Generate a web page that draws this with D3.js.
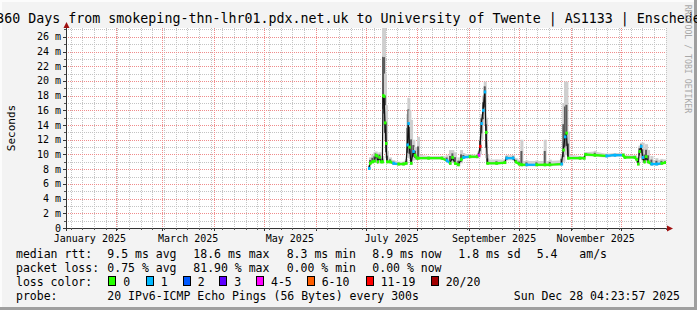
<!DOCTYPE html>
<html><head><meta charset="utf-8">
<script src="https://cdn.jsdelivr.net/npm/d3@7"></script>
<style>
html,body{margin:0;padding:0;background:#f3f3f3;overflow:hidden;}
svg{display:block;font-family:'DejaVu Sans Mono',monospace;}
</style>
</head><body><svg id="c" width="697" height="310"></svg>
<script>
// ---------- data ----------
const times = ["2025-07-03T00","2025-07-03T14","2025-07-05T00","2025-07-06T05","2025-07-07T00","2025-07-07T14","2025-07-08T05","2025-07-09T05","2025-07-10T05","2025-07-11T00",
"2025-07-11T10","2025-07-12T00","2025-07-12T14","2025-07-13T05","2025-07-13T19","2025-07-15T14","2025-07-17T14","2025-07-20T14","2025-07-23T14","2025-07-25T05",
"2025-07-26T00","2025-07-26T14","2025-07-27T05","2025-07-28T05","2025-07-29T14","2025-07-30T14","2025-07-31T14","2025-08-01T10","2025-08-07T14","2025-08-15T14",
"2025-08-18T14","2025-08-20T14","2025-08-22T00","2025-08-23T14","2025-08-25T14","2025-08-27T05","2025-08-28T14","2025-09-01T10","2025-09-05T19","2025-09-06T19",
"2025-09-07T14","2025-09-08T10","2025-09-09T10","2025-09-10T10","2025-09-11T05","2025-09-12T00","2025-09-17T10","2025-09-22T10","2025-09-23T10","2025-09-27T10",
"2025-09-29T00","2025-10-01T00","2025-10-02T10","2025-10-05T10","2025-10-11T10","2025-10-16T10","2025-10-19T10","2025-10-26T10","2025-10-27T14","2025-10-28T14",
"2025-10-29T10","2025-10-30T10","2025-11-06T10","2025-11-09T00","2025-11-09T19","2025-11-15T10","2025-11-22T10","2025-11-27T10","2025-12-02T10","2025-12-03T10",
"2025-12-09T10","2025-12-10T14","2025-12-11T10","2025-12-12T05","2025-12-13T05","2025-12-14T05","2025-12-15T05","2025-12-16T05","2025-12-17T10","2025-12-19T10",
"2025-12-22T10","2025-12-25T10","2025-12-27T19"];
const median = [8.1,8.8,9.0,9.1,9.9,9.8,9.0,9.6,9.0,9.0,
18.0,17.9,14.3,11.5,9.0,9.0,8.8,8.7,8.7,8.8,
11.3,14.2,11.0,8.8,10.4,9.9,9.5,9.5,9.5,9.5,
9.2,8.8,9.6,8.8,8.6,9.3,9.6,9.7,9.7,9.9,
11.1,14.2,16.0,18.5,13.0,8.8,8.8,8.9,9.5,9.5,
9.0,8.7,8.6,8.6,8.6,8.6,8.6,8.7,10.6,12.4,
12.9,9.5,9.5,9.5,10.0,9.9,9.8,9.9,9.9,9.6,
9.6,9.3,8.7,10.4,11.1,9.6,9.0,9.7,9.0,8.7,
8.7,8.8,8.9];
const loss = [1,0,0,0,0,0,0,0,0,0,
0,0,0,0,0,0,1,0,0,0,
1,1,0,0,1,0,0,0,0,0,
1,0,0,0,0,0,1,0,0,4,
12,1,1,1,0,0,0,0,1,1,
0,0,0,1,0,0,0,1,0,1,
0,0,0,0,0,0,1,1,0,0,
0,0,0,0,1,1,0,0,0,1,
1,0,0];
const smokeLo = [7.9,8.6,8.8,8.9,9.6,9.5,8.8,9.0,8.8,8.8,
15.0,14.0,12.0,9.5,8.8,8.8,8.6,8.5,8.5,8.6,
9.5,11.0,9.5,8.6,9.2,9.3,9.3,9.3,9.3,9.3,
9.0,8.6,8.9,8.6,8.4,8.8,9.4,9.5,9.5,9.6,
10.0,12.0,14.0,15.0,9.5,8.6,8.6,8.7,9.2,9.2,
8.8,8.5,8.4,8.4,8.4,8.4,8.4,8.5,9.0,10.0,
10.0,9.3,9.3,9.3,9.8,9.7,9.6,9.7,9.7,9.4,
9.4,9.1,8.5,9.5,9.6,9.0,8.8,8.9,8.8,8.5,
8.5,8.6,8.7];
const smokeHi = [8.6,9.6,10.0,10.3,10.4,10.2,9.8,10.3,9.5,9.8,
27.6,27.6,21.0,16.7,10.5,9.6,9.2,9.0,9.0,9.4,
15.5,17.7,16.0,14.7,12.0,11.0,10.0,12.4,9.8,9.8,
9.9,10.6,10.6,10.3,9.6,10.6,10.2,10.0,10.0,10.5,
12.5,15.5,18.0,19.9,15.0,10.0,9.3,9.3,9.9,9.9,
9.5,9.3,12.0,9.2,9.2,12.0,9.3,10.0,17.0,19.9,
19.9,13.1,9.8,9.8,10.3,10.5,10.1,10.2,10.2,9.9,
9.9,9.7,9.5,11.2,11.6,11.6,10.8,11.4,10.6,9.8,
9.5,9.4,9.3];

const yTicks = [0,2,4,6,8,10,12,14,16,18,20,22,24,26];
const monthLabels = ["2025-01","2025-03","2025-05","2025-07","2025-09","2025-11"];
const lossLabels = ["0","1","2","3","4-5","6-10","11-19","20/20"];
const lossMax = [0,1,2,3,5,10,19,20];
const lossColors = ["#26ff00","#00b8ff","#0059ff","#5e00ff","#ff00ff","#ff5e00","#ff0000","#a10000"];
const rttStats = ["9.5 ms avg","18.6 ms max","8.3 ms min","8.9 ms now","1.8 ms sd","5.4","am/s"];
const lossStats = ["0.75 % avg","81.90 % max","0.00 % min","0.00 % now"];
const title = "360 Days from smokeping-thn-lhr01.pdx.net.uk to University of Twente | AS1133 | Enschede";
const probeText = "20 IPv6-ICMP Echo Pings (56 Bytes) every 300s";
const stampText = "Sun Dec 28 04:23:57 2025";
const tStart = new Date(Date.UTC(2025,0,2,4,23,57));
const tEnd = new Date(Date.UTC(2025,11,28,4,23,57));

// ---------- layout ----------
const W = 697, H = 310;
const L = 66, R = 666, T = 28, B = 228;
const svg = d3.select("#c");
const parse = d3.utcParse("%Y-%m-%dT%H");
const data = times.map((t,i)=>({t:parse(t), m:median[i], l:loss[i], lo:smokeLo[i], hi:smokeHi[i]}));

const x = d3.scaleUtc().domain([tStart,tEnd]).range([L,R]);
const y = d3.scaleLinear().domain([0,27.2]).range([B,T]);

// background + frame
svg.append("rect").attr("width",W).attr("height",H).attr("fill","#f3f3f3");
svg.append("rect").attr("x",0).attr("y",0).attr("width",W).attr("height",2).attr("fill","#fcfcfc");
svg.append("rect").attr("x",0).attr("y",0).attr("width",2).attr("height",H).attr("fill","#fcfcfc");
svg.append("rect").attr("x",0).attr("y",H-3).attr("width",W).attr("height",3).attr("fill","#9f9f9f");
svg.append("rect").attr("x",W-3).attr("y",0).attr("width",3).attr("height",H).attr("fill","#9f9f9f");
svg.append("rect").attr("x",L).attr("y",T).attr("width",R-L).attr("height",B-T).attr("fill","#ffffff");

// grid
const g = svg.append("g").attr("shape-rendering","crispEdges");
const minorY = d3.range(1,28).filter(v=>v%2!==0);
g.selectAll(".ym").data(minorY).join("line")
  .attr("x1",L).attr("x2",R).attr("y1",d=>Math.round(y(d))+0.5).attr("y2",d=>Math.round(y(d))+0.5)
  .attr("stroke","#c4c4c4").attr("stroke-dasharray","1,1");
const weeks = d3.utcSunday.range(tStart,tEnd);
const months = d3.utcMonth.range(tStart,tEnd);
g.selectAll(".xm").data(weeks).join("line")
  .attr("x1",d=>Math.round(x(d))+0.5).attr("x2",d=>Math.round(x(d))+0.5).attr("y1",T).attr("y2",B)
  .attr("stroke","#c4c4c4").attr("stroke-dasharray","1,1");
g.selectAll(".yM").data(yTicks.filter(v=>v>0)).join("line")
  .attr("x1",L).attr("x2",R).attr("y1",d=>Math.round(y(d))+0.5).attr("y2",d=>Math.round(y(d))+0.5)
  .attr("stroke","#f08c8c").attr("stroke-dasharray","1,1");
g.selectAll(".xM").data(months).join("line")
  .attr("x1",d=>Math.round(x(d))+0.5).attr("x2",d=>Math.round(x(d))+0.5).attr("y1",T).attr("y2",B)
  .attr("stroke","#f08c8c").attr("stroke-dasharray","1,1");

// clip for data
svg.append("clipPath").attr("id","pc").append("rect").attr("x",L).attr("y",T).attr("width",R-L).attr("height",B-T);
const dg = svg.append("g").attr("clip-path","url(#pc)");

// smoke: base band + per-point bars
dg.append("path").datum(data)
  .attr("d", d3.area().x(d=>x(d.t)).y0(d=>y(d.lo)).y1(d=>y(Math.min(d.hi,d.m+0.5))))
  .attr("fill","#d2d2d2");
data.forEach(d=>{
  const xx = x(d.t);
  dg.append("rect").attr("x",xx-1).attr("width",3)
    .attr("y",y(d.hi)).attr("height",Math.max(0,y(d.lo)-y(d.hi))).attr("fill","#cfcfcf");
  const inHi = d.m + (d.hi-d.m)*0.55, inLo = d.m - (d.m-d.lo)*0.6;
  dg.append("rect").attr("x",xx-1).attr("width",2)
    .attr("y",y(inHi)).attr("height",Math.max(0,y(inLo)-y(inHi))).attr("fill","#5a5a5a");
});

// median line (dark)
dg.append("path").datum(data)
  .attr("d", d3.line().x(d=>x(d.t)).y(d=>y(d.m)))
  .attr("fill","none").attr("stroke","#111").attr("stroke-width",1.2);

// loss-coloured median overlay
const lc = l => lossColors[lossMax.findIndex(m=>l<=m)];
for (let i=0;i<data.length;i++){
  const d = data[i], n = data[i+1];
  if (n && Math.abs(n.m-d.m) < 0.5){
    dg.append("line").attr("x1",x(d.t)).attr("x2",x(n.t)).attr("y1",y(d.m)).attr("y2",y(n.m))
      .attr("stroke",lc(d.l)).attr("stroke-width",2.2);
  }
  dg.append("rect").attr("x",x(d.t)-1).attr("y",y(d.m)-1.5).attr("width",2.5).attr("height",3).attr("fill",lc(d.l));
}

// axes
const ax = svg.append("g").attr("shape-rendering","crispEdges");
ax.append("line").attr("x1",63).attr("x2",670).attr("y1",B+0.5).attr("y2",B+0.5).attr("stroke","#333");
ax.append("line").attr("x1",L+0.5).attr("x2",L+0.5).attr("y1",B+3).attr("y2",25).attr("stroke","#333");
svg.append("path").attr("d",`M${L+0.5-3},28 L${L+0.5+3},28 L${L+0.5},22 Z`).attr("fill","#a01010");
svg.append("path").attr("d",`M667,${B+0.5-3} L667,${B+0.5+3} L673,${B+0.5} Z`).attr("fill","#a01010");
// ticks
ax.selectAll(".yt").data(yTicks).join("line")
  .attr("x1",63).attr("x2",L).attr("y1",d=>Math.round(y(d))+0.5).attr("y2",d=>Math.round(y(d))+0.5).attr("stroke","#333");
ax.selectAll(".ytm").data(minorY).join("line")
  .attr("x1",64).attr("x2",L).attr("y1",d=>Math.round(y(d))+0.5).attr("y2",d=>Math.round(y(d))+0.5).attr("stroke","#555");
ax.selectAll(".xt").data(months).join("line")
  .attr("x1",d=>Math.round(x(d))+0.5).attr("x2",d=>Math.round(x(d))+0.5).attr("y1",B).attr("y2",B+3).attr("stroke","#333");
ax.selectAll(".xtm").data(weeks).join("line")
  .attr("x1",d=>Math.round(x(d))+0.5).attr("x2",d=>Math.round(x(d))+0.5).attr("y1",B).attr("y2",B+2).attr("stroke","#555");

// y labels
svg.selectAll(".yl").data(yTicks).join("text")
  .attr("x",61).attr("y",d=>y(d)+3.5).attr("text-anchor","end")
  .attr("font-size","10px").attr("fill","#000")
  .text(d=> d===0 ? "0" : d+" m");
// x labels
const pm = d3.utcParse("%Y-%m");
svg.selectAll(".xl").data(monthLabels.map(pm)).join("text")
  .attr("x",d=> (x(d)+x(d3.utcMonth.offset(d,1)))/2).attr("y",241.5).attr("text-anchor","middle")
  .attr("font-size","10px").attr("fill","#000")
  .text(d=>d3.utcFormat("%B %Y")(d));

// y title
svg.append("text").attr("transform","translate(14.5,128) rotate(-90)").attr("text-anchor","middle")
  .attr("font-size","11px").text("Seconds");

// title (wider than the canvas, clipped at both edges as in the reference)
svg.append("text").attr("x",348.5).attr("y",22.5).attr("text-anchor","middle")
  .attr("font-size","13.3px").attr("fill","#000").text(title);

// watermark
svg.append("text").attr("transform","translate(685,59) rotate(90)").attr("text-anchor","middle")
  .attr("font-size","8.2px").attr("fill","#a8a8a8").text("RRDTOOL / TOBI OETIKER");

// legend
const fs = "11.5px";
const lg = svg.append("g").attr("font-size",fs).attr("fill","#000").style("white-space","pre");
const rows = [258, 272, 285.7, 299.7];
lg.append("text").attr("x",16).attr("y",rows[0]).text("median rtt:");
const rttX = [107.3,193.3,286.7,372.3,458.3,536.7,579.3];
rttStats.forEach((s,i)=>lg.append("text").attr("x",rttX[i]).attr("y",rows[0]).text(s));
lg.append("text").attr("x",16).attr("y",rows[1]).text("packet loss:");
lossStats.forEach((s,i)=>lg.append("text").attr("x",rttX[i]).attr("y",rows[1]).text(s));
lg.append("text").attr("x",16).attr("y",rows[2]).text("loss color:");
const boxX = [108.3,145.7,182.7,219.3,256,306.7,365.7,430.7];
lossLabels.forEach((s,i)=>{
  lg.append("rect").attr("x",boxX[i]+0.5).attr("y",rows[2]-9.5).attr("width",7).attr("height",9)
    .attr("fill",lossColors[i]).attr("stroke","#000").attr("stroke-width",1).attr("shape-rendering","crispEdges");
  lg.append("text").attr("x",boxX[i]+15).attr("y",rows[2]).text(s);
});
lg.append("text").attr("x",16).attr("y",rows[3]).text("probe:");
lg.append("text").attr("x",107.3).attr("y",rows[3]).text(probeText);
lg.append("text").attr("x",680).attr("y",rows[3]).attr("text-anchor","end").text(stampText);
</script>
</body></html>
